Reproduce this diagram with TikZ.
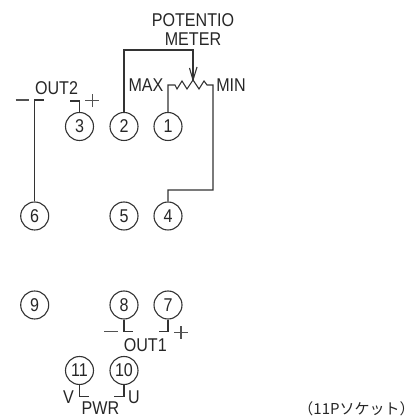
\documentclass[tikz,border=0pt]{standalone}
\usepackage{fontspec}
\setmainfont{Liberation Sans}
\newfontfamily\cad[FakeStretch=0.87]{Liberation Sans}
\newfontfamily\jpfont{Noto Sans CJK JP}
\tikzset{
 x=1pt,y=1pt,
 wire/.style={draw=black!80,line width=1.1pt,line join=miter},
 sign/.style={draw=black!68,line width=1.1pt},
 pin/.style={circle,draw=black!80,line width=1.1pt,minimum size=28pt,inner sep=0pt,text=black!85,font=\cad\fontsize{18.5}{18.5}\selectfont},
 lab/.style={inner sep=0pt,text=black!85,font=\cad\fontsize{18.5}{18.5}\selectfont},
}
\begin{document}
\begin{tikzpicture}
\useasboundingbox (0,0) rectangle (414,417);
\node[pin] (p1) at (168,290.5) {1};
\node[pin] (p2) at (124,290.5) {2};
\node[pin] (p3) at (79.5,290.5) {3};
\node[pin] (p4) at (168,201) {4};
\node[pin] (p5) at (124,201) {5};
\node[pin] (p6) at (34.7,201) {6};
\node[pin] (p7) at (168,112) {7};
\node[pin] (p8) at (124,112) {8};
\node[pin] (p9) at (34.7,112) {9};
\node[pin] (p10) at (124,46.5) {10};
\node[pin] (p11) at (79.5,46.5) {11};
\node[lab] (pot) at (193,397) {POTENTIO};
\node[lab] (met) at (193,377.5) {METER};
\node[lab] (max) at (146,332) {MAX};
\node[lab] (min) at (231,332) {MIN};
\node[lab] (o2) at (56.5,328.5) {OUT2};
\node[lab] (o1) at (145.3,72) {OUT1};
\node[lab] (pwr) at (100.5,8.5) {PWR};
\node[lab] (v) at (68.5,19.5) {V};
\node[lab] (u) at (134,20) {U};
\node[inner sep=0pt,text=black!85] (sock) at (356.5,8) {\jpfont\fontsize{15}{15}\selectfont （11Pソケット）};
% potentiometer wiper
\coordinate (tip) at (193,337);
\draw[wire] (p2.north) |- (193,367) -- (tip);
\draw[wire] (189.5,349) -- (tip) -- (197,350);
% resistor
\draw[wire] (p1.north) |- (175,332) -- (177,328) -- (182,336) -- (187,328) -- (193,337) -- (199,328) -- (204,336) -- (207,332) -- (213,332) |- (168,227) -- (p4.north);
% OUT2
\draw[wire] (p6.north) |- (44,317);
\draw[wire] (p3.north) |- (70,316);
\draw[sign] (15.7,317) -- (29,317);
\draw[sign] (85.3,316.3) -- (99.3,316.3) (92.3,309.8) -- (92.3,322.8);
% OUT1
\draw[wire] (p8.south) |- (133,85.3);
\draw[wire] (p7.south) |- (159,85.3);
\draw[sign] (104,85.3) -- (118,85.3);
\draw[sign] (174,84.7) -- (188,84.7) (181,78.2) -- (181,91.2);
% PWR
\draw[wire] (p11.south) |- (89,20.3);
\draw[wire] (p10.south) |- (114.3,20.3);
\end{tikzpicture}
\end{document}
